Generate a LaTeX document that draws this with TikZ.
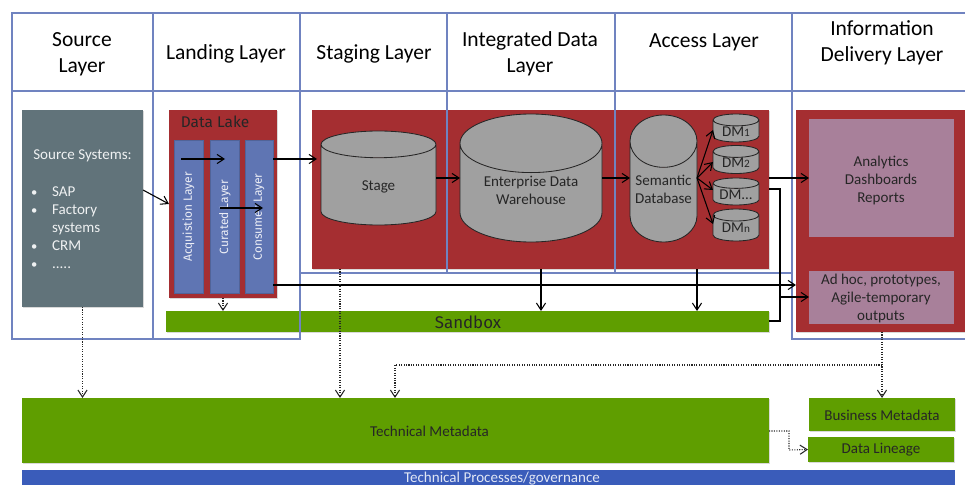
\documentclass[tikz,border=0pt]{standalone}
\usepackage{fontspec}
\setmainfont{Carlito}
\newfontfamily\lakefont{Fira Sans}
\usetikzlibrary{fit,shapes.geometric,shadows,arrows.meta}
\definecolor{framecol}{HTML}{7083C0}
\definecolor{redcol}{HTML}{A52E31}
\definecolor{barcol}{HTML}{5F75B3}
\definecolor{slatecol}{HTML}{61737A}
\definecolor{greencol}{HTML}{5F9E00}
\definecolor{pinkcol}{HTML}{A8809A}
\definecolor{graycol}{HTML}{A0A0A0}
\definecolor{processcol}{HTML}{3A5CBA}
\tikzset{
  plate/.style={rectangle, inner sep=0pt, outer sep=0pt, drop shadow={shadow xshift=0.4pt, shadow yshift=-0.5pt, opacity=0.3}},
  redbox/.style={plate, fill=redcol},
  greenbox/.style={plate, fill=greencol},
  barbox/.style={rectangle, inner sep=0pt, outer sep=0pt, fill=barcol, draw=barcol!85!black, line width=0.3pt},
  bartext/.style={text=white!88!barcol, font=\lakefont\fontsize{8.5}{10}\selectfont, rotate=90},
  pinkbox/.style={rectangle, inner sep=0pt, outer sep=0pt, fill=pinkcol},
  boxtext/.style={inner sep=0pt, align=center, text=black!85, font=\fontsize{10.7}{12.8}\selectfont},
  frame/.style={draw=framecol, line width=1.1pt},
  head/.style={align=center, font=\fontsize{15.3}{18.5}\selectfont},
  store/.style={cylinder, shape border rotate=90, draw=black!85, line width=0.6pt, cylinder uses custom fill,
    cylinder body fill=graycol, cylinder end fill=graycol, inner sep=0pt, outer sep=0pt, anchor=shape center,
    font=\fontsize{10.7}{12.8}\selectfont},
  flow/.style={-{Straight Barb[length=5pt,width=6.5pt]}, line width=0.75pt, black},
  plain/.style={line width=0.75pt, black},
  dots/.style={-{Straight Barb[length=5pt,width=6.5pt]}, line width=0.75pt, black!85, densely dotted},
}
\newcommand{\dmsub}[1]{{\fontsize{8}{8}\selectfont #1}}
\begin{document}
\begin{tikzpicture}[x=0.025cm, y=-0.025cm]
  \useasboundingbox (0,0) rectangle (965,485);
  \clip (0,0) rectangle (965,485);

  % Red panels
  \node[plate, fill=slatecol, fit={(22,110) (143,307)}] (source) {};
  \node[redbox, fit={(169,110) (277,298)}] (lake) {};
  \node[redbox, fit={(312,110) (769,269)}] (core) {};
  \node[redbox, fit={(796,110) (970,332)}] (delivery) {};

  % Source text
  \node[anchor=north west, inner sep=0pt, text=white!90!slatecol, font=\fontsize{10.7}{12.8}\selectfont] (sourcetext) at (33,147) {%
    \begin{tabular}{@{}p{0.47cm}@{}l@{}}
      \multicolumn{2}{@{}l}{Source Systems:}\\[13.2pt]
      \hspace*{-1.5pt}{\small\textbullet} & SAP\\
      \hspace*{-1.5pt}{\small\textbullet} & Factory\\
                  & systems\\
      \hspace*{-1.5pt}{\small\textbullet} & CRM\\
      \hspace*{-1.5pt}{\small\textbullet} & .....
    \end{tabular}};

  % Data lake
  \node[text=black!85, font=\lakefont\fontsize{11}{12}\selectfont] (laketitle) at (215,122) {Data Lake};
  \node[barbox, fit={(174,140) (203,293)}] (acq) {};
  \node[barbox, fit={(210,140) (239,293)}] (cur) {};
  \node[barbox, fit={(245,140) (273,293)}] (con) {};
  \node[bartext] (acqtext) at (188.5,217) {Acquistion Layer};
  \node[bartext] (curtext) at (225,217) {Curated Layer};
  \node[bartext] (context) at (259,217) {Consumer Layer};

  % Stores
  \node[store, minimum width=115*0.025cm, minimum height=94*0.025cm, aspect=0.8] (stage) at (378.5,178) {\phantom{Stage}};
  \node[store, minimum width=142*0.025cm, minimum height=128*0.025cm, aspect=0.62] (edw) at (531,178) {\phantom{Enterprise Data}};
  \node[store, minimum width=67*0.025cm, minimum height=127*0.025cm, aspect=0.92] (semantic) at (663.5,178.5) {\phantom{Database}};
  \node[store, minimum width=46*0.025cm, minimum height=28*0.025cm, aspect=0.4] (dma) at (736,128) {\phantom{DM1}};
  \node[store, minimum width=46*0.025cm, minimum height=27*0.025cm, aspect=0.4] (dmb) at (736,159.5) {\phantom{DM2}};
  \node[store, minimum width=46*0.025cm, minimum height=27*0.025cm, aspect=0.4] (dmc) at (736,191.5) {\phantom{DM.}};
  \node[store, minimum width=46*0.025cm, minimum height=32*0.025cm, aspect=0.4] (dmn) at (736,225) {\phantom{DMn}};
  \node[boxtext] (stagetext) at (378.5,187) {Stage};
  \node[boxtext] (edwtext) at (531,190) {Enterprise Data\\Warehouse};
  \node[boxtext] (semantictext) at (663.5,189) {Semantic\\Database};
  \node[boxtext] (dmatext) at (736,132) {DM\dmsub{1}};
  \node[boxtext] (dmbtext) at (736,163) {DM\dmsub{2}};
  \node[boxtext] (dmctext) at (736,195) {DM...};
  \node[boxtext] (dmntext) at (736,228) {DM\dmsub{n}};

  % Delivery panels
  \node[pinkbox, fit={(809,119) (954,237)}] (analytics) {};
  \node[pinkbox, fit={(809,271) (954,324)}] (adhoc) {};
  \node[boxtext] (analyticstext) at (881,180) {Analytics\\Dashboards\\Reports};
  \node[boxtext] (adhoctext) at (881,298.5) {Ad hoc, prototypes,\\Agile-temporary\\outputs};

  % Green boxes
  \node[greenbox, fit={(166,311) (769,332)}] (sandbox) {};
  \node[greenbox, fit={(22,398) (769,463)}] (techmeta) {};
  \node[greenbox, fit={(809,398) (955,431)}] (bizmeta) {};
  \node[greenbox, fit={(808,437) (954,462)}] (lineage) {};
  \node[rectangle, inner sep=0pt, outer sep=0pt, fill=processcol, fit={(22,470) (955,490)}] (process) {};
  \node[boxtext, font=\lakefont\fontsize{12}{14}\selectfont] (sandboxtext) at (468,322) {Sandbox};
  \node[boxtext] (techtext) at (429.5,431) {Technical Metadata};
  \node[boxtext] (biztext) at (882,415) {Business Metadata};
  \node[boxtext] (lineagetext) at (881,450) {Data Lineage};
  \node[boxtext, text=white!85!processcol] (processtext) at (502,479) {Technical Processes/governance};

  % Layer frames
  \draw[frame] (12,13) rectangle (153,339);
  \draw[frame] (153,13) rectangle (300,339);
  \draw[frame] (300,13) rectangle (447,273);
  \draw[frame] (447,13) rectangle (615,273);
  \draw[frame] (615,13) rectangle (792,273);
  \draw[frame] (792,13) rectangle (975,339);
  \draw[frame] (12,91) -- (975,91);

  % Layer names
  \node[head] (h1) at (82,54) {Source\\Layer};
  \node[head] (h2) at (226,54) {Landing Layer};
  \node[head] (h3) at (374,54) {Staging Layer};
  \node[head] (h4) at (530,54) {Integrated Data\\Layer};
  \node[head] (h5) at (704,42) {Access Layer};
  \node[head] (h6) at (882,43) {Information\\Delivery Layer};

  % Helper points
  \coordinate (srcout) at (143,190);
  \coordinate (acqout) at (181,159);
  \coordinate (curin) at (225,159);
  \coordinate (curout) at (220,208);
  \coordinate (conin) at (263,208);
  \coordinate (conout) at (273,159);
  \coordinate (stagein) at (317,159);
  \coordinate (coreout) at (769,178);
  \coordinate (stageout) at (coreout -| stage.east);
  \coordinate (edwin) at (coreout -| edw.west);
  \coordinate (edwout) at (coreout -| edw.east);
  \coordinate (semin) at (coreout -| semantic.west);
  \coordinate (semout) at (coreout -| semantic.east);
  \coordinate (dmout) at (769,189);
  \coordinate (sbout) at (769,321);
  \coordinate (bendtop) at (780,189);
  \coordinate (bendlow) at (780,321);
  \coordinate (bendin) at (780,297);
  \coordinate (lakeout) at (273,285);
  \coordinate (deliveryin) at (796,285);
  \coordinate (edwdown) at (541,269);
  \coordinate (semdown) at (697,269);
  \coordinate (dmain) at (713,130);
  \coordinate (dmbin) at (713,162);
  \coordinate (dmcin) at (713,190);
  \coordinate (dmnin) at (713,224);
  \coordinate (stagedown) at (340,269);
  \coordinate (branch) at (882,365);
  \coordinate (branchend) at (395,365);
  \coordinate (linout) at (769,431);
  \coordinate (linbend) at (789,431);
  \coordinate (linlow) at (789,450);

  % Solid connectors
  \draw[flow] (srcout) -- (lake.west);
  \draw[flow] (acqout) -- (curin);
  \draw[flow] (curout) -- (conin);
  \draw[flow] (conout) -- (stagein);
  \draw[flow] (stageout) -- (edwin);
  \draw[flow] (edwout) -- (semin);
  \draw[flow] (semout) -- (dmain);
  \draw[flow] (semout) -- (dmbin);
  \draw[flow] (semout) -- (dmcin);
  \draw[flow] (semout) -- (dmnin);
  \draw[flow] (coreout) -- (analytics.west |- coreout);
  \draw[plain] (dmout) -- (bendtop) -- (bendlow) -- (sbout);
  \draw[flow] (bendin) -- (adhoc.west |- bendin);
  \draw[flow] (lakeout) -- (deliveryin);
  \draw[flow] (edwdown) -- (edwdown |- sandbox.north);
  \draw[flow] (semdown) -- (semdown |- sandbox.north);

  % Dotted connectors
  \draw[dots] (lake.south) -- (lake.south |- sandbox.north);
  \draw[dots] (source.south) -- (source.south |- techmeta.north);
  \draw[dots] (stagedown) -- (stagedown |- techmeta.north);
  \draw[dots] (bizmeta.north |- delivery.south) -- (bizmeta.north);
  \draw[dots] (branch) -- (branchend) -- (branchend |- techmeta.north);
  \draw[dots] (linout) -- (linbend) -- (linlow) -- (lineage.west);
\end{tikzpicture}
\end{document}
